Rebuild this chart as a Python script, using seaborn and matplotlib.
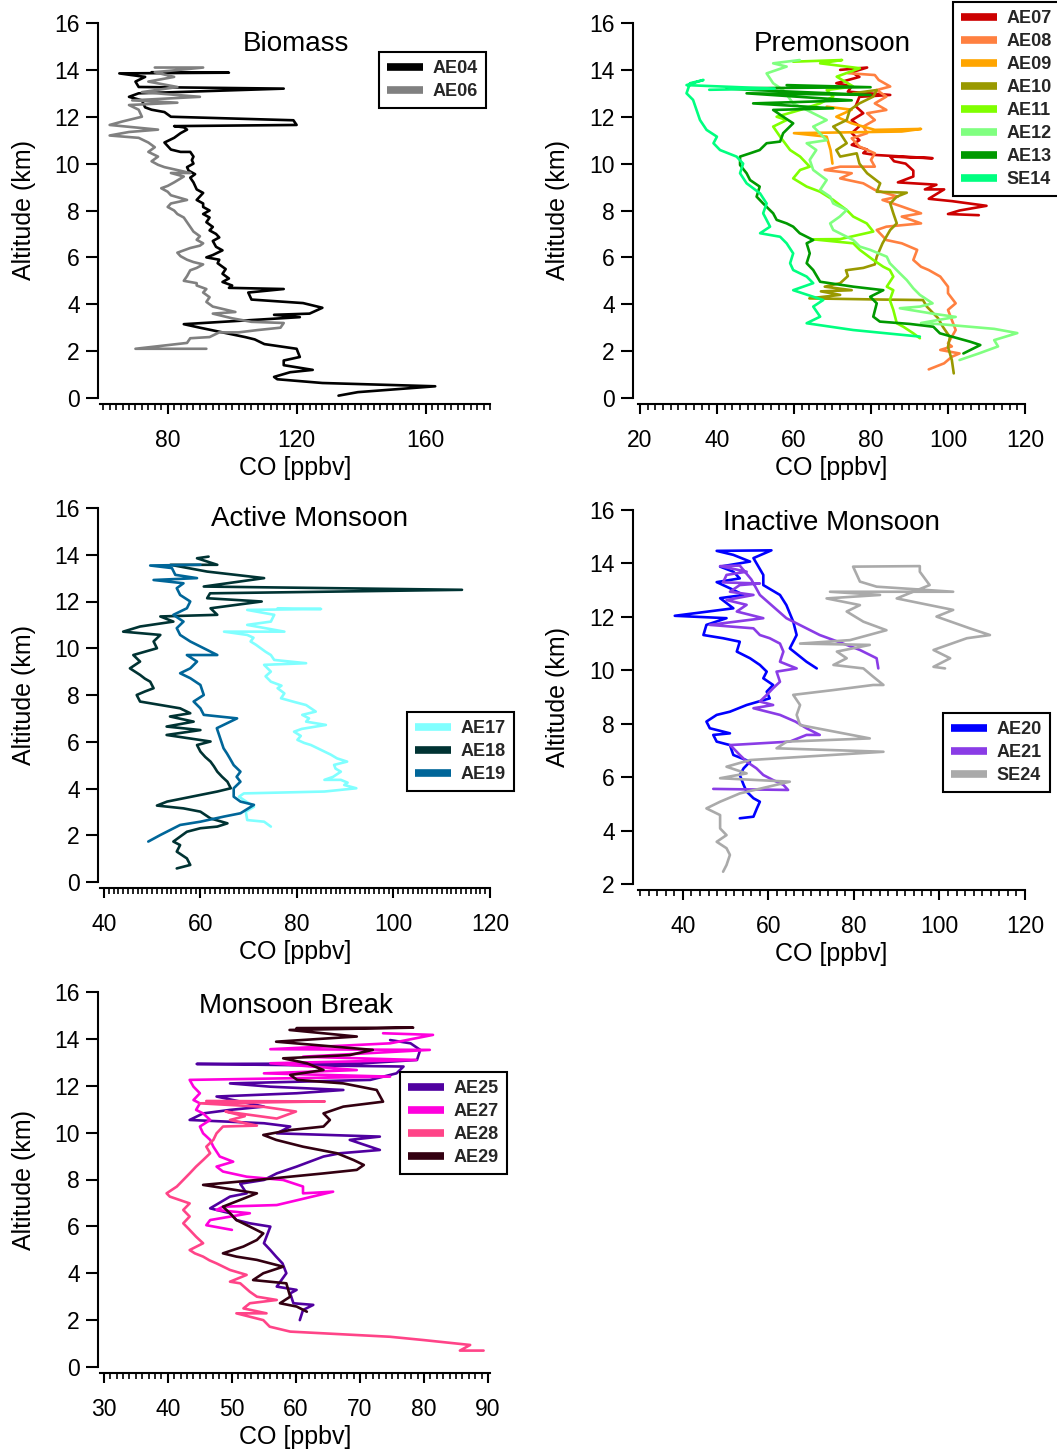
import matplotlib
matplotlib.use("Agg")
import matplotlib.pyplot as plt
import pandas as pd
import seaborn as sns
from matplotlib.lines import Line2D
from matplotlib.ticker import MultipleLocator

# ---------------------------------------------------------------
# CO vertical profiles: (CO [ppbv], altitude [km]) in flight order
# ---------------------------------------------------------------
AE04 = [(133, 0.1), (139, 0.25), (163, 0.5), (128, 0.64), (114, 0.8), (113, 0.9), (118, 1.1), (125, 1.2),
        (116, 1.4), (116, 1.6), (121, 1.75), (120, 2.1), (110, 2.3), (107, 2.5), (104, 2.6), (97, 2.8),
        (90, 3.0), (85, 3.15), (121, 3.45), (113, 3.55), (124, 3.6), (128, 3.85), (122, 4.05), (106, 4.2),
        (105, 4.5), (116, 4.65), (99, 4.7), (100, 4.8), (97, 4.95), (99, 5.1), (97, 5.3), (98, 5.5),
        (95.5, 5.75), (96, 5.9), (92, 6.0), (94, 6.1), (97, 6.3), (95, 6.45), (94, 6.7), (96, 6.85), (95, 7.0),
        (93, 7.15), (94, 7.3), (92, 7.5), (93, 7.7), (91, 7.85), (93, 8.0), (91, 8.15), (91, 8.3), (89, 8.45),
        (90, 8.6), (91, 8.75), (89, 8.9), (88.5, 9.05), (88, 9.2), (87, 9.4), (88.5, 9.55), (86.5, 9.7),
        (86, 9.85), (88, 10.0), (87.5, 10.15), (88, 10.3), (87, 10.5), (84, 10.5), (81, 10.6), (79, 10.9),
        (82, 11.1), (84, 11.3), (86, 11.45), (85, 11.55), (82, 11.6), (120, 11.65), (119, 11.85), (81, 12.0),
        (79, 12.2), (75, 12.3), (73, 12.4), (72, 12.7), (68, 12.85), (71, 13.0), (116, 13.2), (71, 13.27),
        (70, 13.5), (73, 13.7), (65, 13.85), (99, 13.88), (75, 13.9)]
AE06 = [(92, 2.1), (70, 2.1), (86, 2.35), (87, 2.55), (93, 2.6), (96, 2.8), (102, 2.8), (108, 2.9),
        (115, 3.0), (116, 3.2), (106, 3.25), (100, 3.4), (94, 3.6), (101, 3.67), (94, 3.9), (92, 4.1),
        (93, 4.3), (91, 4.5), (92, 4.65), (89, 4.8), (89, 4.9), (85, 5.0), (86, 5.2), (87, 5.45), (89, 5.55),
        (91, 5.7), (88, 5.8), (86, 5.9), (84, 6.05), (83, 6.2), (85, 6.3), (87, 6.4), (90, 6.5), (91, 6.6),
        (89, 6.75), (90, 6.9), (88, 7.1), (87, 7.3), (86, 7.5), (85, 7.7), (83, 7.85), (82, 8.0), (80, 8.15),
        (81, 8.3), (86, 8.45), (81, 8.65), (80, 8.8), (78, 8.95), (80, 9.05), (82, 9.2), (85, 9.45), (81, 9.6),
        (87, 9.6), (79, 9.85), (77, 9.95), (75, 10.1), (77, 10.3), (74, 10.5), (76, 10.7), (74, 10.9),
        (71, 11.1), (62, 11.2), (68, 11.35), (77, 11.45), (62, 11.65), (66, 11.8), (72, 12.0), (71, 12.3),
        (68, 12.5), (83, 12.6), (69, 12.7), (90, 12.85), (72, 13.05), (83, 13.27), (74, 13.5), (82, 13.7),
        (76, 13.9), (91, 14.1), (76, 14.1)]

AE07 = [(108, 7.8), (100, 7.85), (103, 8.0), (110, 8.2), (101, 8.4), (95, 8.5), (99, 8.9), (94, 8.9),
        (97, 9.1), (87, 9.2), (91, 9.45), (91, 9.7), (89, 10.0), (86, 10.1), (85, 10.3), (96, 10.23),
        (81, 10.37), (78, 10.45), (79, 10.6), (75, 10.8), (77, 11.0), (75, 11.3), (77, 11.6), (75, 11.85),
        (78, 12.15), (76, 12.45), (77, 12.85), (85, 12.93), (74, 13.07), (75, 13.3), (71, 13.43), (77, 13.7),
        (75, 13.9), (79, 14.1), (72, 14.0)]
AE08 = [(95, 1.22), (99, 1.48), (101, 1.76), (103, 1.9), (98, 2.05), (101, 2.2), (100, 2.33), (102, 2.9),
        (101, 3.33), (100, 3.76), (102, 4.04), (100, 4.47), (100, 4.75), (98, 5.18), (95, 5.46), (93, 5.6),
        (91, 5.89), (92, 6.32), (88, 6.6), (84, 6.74), (81.5, 7.17), (84, 7.31), (93, 7.45), (88, 7.74),
        (93, 7.88), (88, 8.17), (83, 8.45), (87, 8.59), (81, 8.88), (78, 9.16), (72, 9.37), (75, 9.59),
        (68, 9.73), (72, 9.87), (81, 9.87), (80, 10.16), (81, 10.44), (77, 10.73), (75, 11.08), (79, 11.3),
        (78, 11.58), (81, 11.86), (79, 12.15), (84, 12.29), (81, 12.57), (84, 12.86), (81.5, 13.14),
        (85, 13.29), (82, 13.57), (81, 13.78), (74, 13.86)]
AE09 = [(70, 10.0), (69.5, 10.58), (68.5, 11.15), (60, 11.3), (88, 11.37), (93, 11.48), (81, 11.44),
        (75, 11.72), (71, 12.0), (75, 12.3), (68.5, 12.43)]
AE10 = [(101.5, 1.05), (101, 1.62), (100, 2.18), (100.5, 2.6), (98.7, 3.03), (97.4, 3.41), (94.5, 3.9),
        (93.5, 4.18), (83, 4.2), (64, 4.25), (72, 4.4), (67, 4.55), (75, 4.6), (68, 4.75), (72, 4.9),
        (74, 5.2), (73.5, 5.45), (78, 5.55), (81, 5.7), (81.5, 6.03), (83, 6.6), (85, 7.17), (86.7, 7.45),
        (85.8, 7.88), (85, 8.3), (86.7, 8.59), (89.3, 8.76), (81.5, 8.8), (82.4, 9.16), (79, 9.59),
        (77, 10.0), (76.3, 10.44), (72, 10.3), (71, 10.58), (73.7, 10.87), (72, 11.3), (70.2, 11.58),
        (73.7, 11.86), (74.5, 12.29), (77, 12.57), (80.6, 12.86), (81.5, 13.14), (75.4, 13.0)]
AE11 = [(92.7, 2.55), (91, 2.76), (88.4, 3.04), (86.7, 3.19), (85.8, 3.76), (84.9, 4.18), (85.8, 4.6),
        (84.1, 4.75), (85.8, 5.18), (84.9, 5.46), (83.2, 5.6), (80.6, 5.89), (77.1, 6.32), (75.4, 6.6),
        (66.8, 6.74), (65, 6.77), (72, 6.78), (80.6, 7.1), (78.9, 7.45), (75.4, 7.74), (73.7, 8.02),
        (70.2, 8.45), (66.8, 8.8), (63.3, 9.02), (59.8, 9.37), (61.6, 9.73), (64.1, 9.87), (61.6, 10.3),
        (59, 10.58), (56.4, 11.15), (54.6, 11.58), (58.1, 11.86), (55.5, 12.0), (61.6, 12.29), (66.8, 12.57),
        (70.2, 12.86), (68.5, 13.14), (75.4, 13.29), (71.1, 13.71), (77.1, 14.07), (66.8, 14.28),
        (72.5, 14.42), (59.8, 14.35)]
AE12 = [(103, 1.62), (108, 1.9), (113, 2.2), (112, 2.47), (118, 2.77), (112, 2.95), (98, 3.15), (93, 3.2),
        (102, 3.46), (96, 3.6), (87.5, 3.83), (92.7, 3.9), (96, 4.04), (92.7, 4.4), (91, 4.68), (89.3, 5.03),
        (87.5, 5.32), (84.9, 5.75), (84.1, 6.03), (79.8, 6.32), (77.1, 6.46), (75.4, 6.74), (70.2, 7.17),
        (69.4, 7.45), (71.9, 7.74), (73.7, 8.02), (70.2, 8.3), (69.4, 8.59), (66.8, 8.88), (68.5, 9.3),
        (65, 9.73), (64.1, 10.16), (65.8, 10.58), (63.3, 10.87), (68.5, 11.0), (65, 11.58), (68.5, 11.86),
        (63.3, 12.29), (59.8, 12.57), (57.2, 13.14), (54.6, 13.43), (52.9, 13.85), (58.1, 14.14),
        (54.6, 14.28), (61.5, 14.42)]
AE13 = [(104, 1.9), (108.4, 2.26), (105.8, 2.4), (97.9, 2.76), (96.2, 3.04), (90.1, 3.16), (82.3, 3.26),
        (80.6, 3.47), (81.5, 4.04), (79.8, 4.32), (83.2, 4.6), (75.4, 4.75), (66.8, 4.96), (65, 5.46),
        (63.3, 5.75), (64.1, 6.17), (63.3, 6.6), (65, 6.74), (61.5, 7.03), (59.8, 7.31), (58.1, 7.45),
        (55.5, 7.6), (54.6, 7.88), (52, 8.3), (50.3, 8.59), (51.1, 9.02), (48.6, 9.3), (47.7, 9.59),
        (46, 9.94), (46, 10.3), (48.6, 10.44), (51.1, 10.58), (52.9, 10.87), (56.4, 10.94), (57.2, 11.3),
        (59.8, 11.72), (57.2, 12.0), (54.6, 12.29), (70.2, 12.36), (49.4, 12.57), (75, 12.7), (47.7, 13.0),
        (79.9, 12.93), (49.4, 13.14), (42.5, 13.21), (79.9, 13.26), (58.1, 13.35)]
SE14 = [(92.7, 2.62), (75.4, 2.9), (63.3, 3.19), (66.8, 3.47), (65, 3.9), (67.6, 4.18), (59.8, 4.6),
        (65, 4.9), (63.3, 5.18), (59.8, 5.46), (59, 5.75), (59.8, 6.17), (58.1, 6.6), (56.4, 6.88),
        (51.2, 7.03), (53.8, 7.31), (52, 7.88), (52.9, 8.3), (51.2, 8.73), (47.7, 9.16), (46, 9.59),
        (46.8, 10.0), (45.1, 10.3), (40.8, 10.58), (39.1, 10.87), (40, 11.15), (37.3, 11.44), (35.6, 11.86),
        (34.7, 12.29), (33.8, 12.72), (32.1, 13.0), (33, 13.43), (36.5, 13.57), (32.1, 13.35), (55, 13.2),
        (38, 13.15)]

AE17 = [(74.6, 2.37), (73.2, 2.58), (69.7, 2.65), (69.4, 3.01), (71.1, 3.22), (69, 3.51), (68, 3.65),
        (69, 3.79), (85.7, 3.87), (92.3, 4.01), (89.8, 4.15), (90.5, 4.25), (89.1, 4.37), (85.7, 4.37),
        (87.5, 4.5), (89.1, 4.72), (88, 4.85), (87.7, 5.01), (90.4, 5.15), (88.3, 5.29), (87, 5.45),
        (85.7, 5.58), (84.5, 5.7), (82.9, 5.86), (81.5, 5.95), (80.1, 6.08), (80.8, 6.25), (79.4, 6.43),
        (81, 6.55), (86, 6.72), (81.9, 6.86), (82.5, 7.0), (81.1, 7.15), (83.9, 7.29), (81.9, 7.57),
        (79.5, 7.7), (76.7, 7.86), (77.4, 8.07), (76, 8.29), (76.8, 8.4), (74.6, 8.57), (73.5, 8.8),
        (74.6, 9.0), (73.2, 9.29), (81.9, 9.36), (75.3, 9.5), (74.6, 9.71), (73.5, 9.85), (72.5, 10.0),
        (71.5, 10.15), (70.4, 10.29), (71, 10.45), (69.7, 10.57), (64.9, 10.71), (77.4, 10.71), (69.7, 11.0),
        (74.6, 11.14), (75.3, 11.43), (69.7, 11.64), (85, 11.68), (76, 11.71)]
AE18 = [(55.1, 0.58), (57.9, 0.73), (57.2, 1.01), (55.1, 1.3), (55.8, 1.58), (54.4, 1.73), (57.2, 2.15),
        (60, 2.3), (63.5, 2.37), (65.6, 2.51), (62.1, 2.72), (60, 3.01), (56.5, 3.15), (51, 3.27),
        (53.1, 3.44), (63.5, 3.87), (66.3, 4.01), (65.6, 4.29), (64.5, 4.5), (63.5, 4.72), (62.8, 4.95),
        (62.1, 5.15), (61, 5.35), (60, 5.58), (59.3, 5.86), (62.1, 6.01), (53, 6.29), (60, 6.5), (53, 6.65),
        (58.6, 6.86), (53.7, 7.08), (57.9, 7.22), (55.8, 7.43), (53.8, 7.5), (47.5, 7.72), (46.8, 8.0),
        (48.5, 8.15), (50.3, 8.29), (49.6, 8.57), (48.5, 8.7), (47.5, 8.86), (45.4, 9.14), (47.5, 9.43),
        (46.1, 9.71), (51, 10.0), (50.3, 10.29), (51.7, 10.57), (44, 10.71), (47.5, 10.93), (54.4, 11.14),
        (51.7, 11.36), (63.5, 11.43), (62.1, 11.71), (72.7, 12.0), (61.4, 12.14), (62, 12.35), (114.2, 12.5),
        (60.7, 12.64), (73.2, 13.0), (61.4, 13.28), (53.8, 13.57), (63.5, 13.57), (59.3, 13.85), (61.7, 13.92)]
AE19 = [(49.2, 1.73), (51.7, 2.01), (55.8, 2.44), (60, 2.58), (64.9, 2.8), (68.3, 2.94), (71.1, 3.3),
        (68.3, 3.44), (66.9, 3.65), (66.9, 4.01), (68.3, 4.29), (67.5, 4.5), (68.3, 4.72), (66.9, 5.0),
        (66.1, 5.29), (65.5, 5.5), (64.8, 5.72), (64.1, 6.15), (63.4, 6.58), (67.6, 7.0), (60.7, 7.15),
        (60, 7.43), (58.6, 7.72), (60.7, 8.0), (60, 8.43), (57.9, 8.72), (55.8, 8.93), (57.9, 9.14),
        (59.3, 9.43), (57.2, 9.71), (63.5, 9.71), (57.9, 10.29), (55.8, 10.57), (55.1, 10.86), (56.5, 11.14),
        (54.4, 11.43), (57.2, 11.71), (57.9, 12.0), (55.8, 12.28), (55.1, 12.57), (56.5, 12.78), (50.3, 12.92),
        (59.3, 13.0), (54.8, 13.14), (54.1, 13.43), (49.6, 13.54), (60, 13.57)]

AE20 = [(53.3, 4.46), (56.5, 4.52), (57.3, 4.83), (58, 5.08), (56.5, 5.21), (54.9, 5.46), (54.2, 5.71),
        (53.3, 6.08), (54.2, 6.33), (55.7, 6.58), (51.8, 6.83), (51, 7.2), (47.9, 7.33), (47.1, 7.58),
        (51, 7.64), (46.3, 7.83), (45.5, 8.08), (47.9, 8.33), (51, 8.45), (54.9, 8.7), (60.3, 8.95),
        (59.6, 9.2), (61.1, 9.45), (58.8, 9.7), (59.6, 9.95), (58, 10.2), (55.7, 10.45), (52.6, 10.7),
        (53.3, 11.07), (49.4, 11.2), (44.8, 11.32), (45.5, 11.7), (50.2, 11.95), (38.1, 12.04), (51.8, 12.32),
        (48.7, 12.7), (54.2, 12.82), (51, 13.07), (47.9, 13.3), (53.3, 13.44), (51.8, 13.69), (48.7, 13.88),
        (55.7, 14.07), (51.8, 14.32), (47.9, 14.47), (60.7, 14.49), (56.5, 14.2), (58.8, 13.57),
        (58.8, 13.19), (62.7, 12.82), (64.2, 12.44), (65.8, 11.82), (66.6, 11.32), (65, 10.82), (68.9, 10.32),
        (71.3, 10.07)]
AE21 = [(47.1, 5.56), (64.6, 5.52), (63.5, 5.71), (61.1, 5.89), (58.8, 6.08), (57.2, 6.33), (54.9, 6.58),
        (53.3, 6.83), (51.8, 7.08), (51, 7.2), (65, 7.33), (68.9, 7.58), (72, 7.58), (68.9, 7.83),
        (66.3, 8.08), (62.7, 8.33), (56.5, 8.58), (61.1, 8.7), (58, 8.83), (59.6, 9.08), (61.1, 9.33),
        (62.7, 9.57), (61.9, 9.95), (66.6, 10.07), (62.7, 10.32), (63.5, 10.7), (62.7, 11.0), (60.3, 11.2),
        (58, 11.32), (56.5, 11.57), (46.3, 11.7), (58.8, 11.95), (52.6, 12.2), (54.9, 12.45), (50.2, 12.63),
        (56.5, 12.82), (51, 12.94), (53.3, 13.19), (58, 13.25), (49.4, 13.29), (50.2, 13.57), (54.9, 13.69),
        (48.7, 13.9), (53.3, 13.92), (56, 13.4), (58, 12.82), (64.2, 11.95), (72, 11.32), (78.3, 10.95),
        (81.4, 10.76), (85.3, 10.45), (85.7, 10.07)]
SE24 = [(49.4, 2.46), (50.2, 2.71), (51, 3.09), (50.2, 3.34), (47.9, 3.58), (50.2, 3.83), (48.7, 4.08),
        (48.7, 4.58), (45.5, 4.83), (48.7, 5.08), (53.3, 5.39), (65, 5.83), (48.7, 5.96), (54.9, 6.14),
        (50.2, 6.39), (55.7, 6.64), (86.9, 6.95), (61.9, 7.08), (64.3, 7.33), (83.7, 7.45), (67.4, 7.95),
        (66.6, 8.33), (67.4, 8.7), (65.8, 9.08), (75.2, 9.26), (84.5, 9.45), (86.9, 9.45), (84.5, 9.76),
        (82.2, 10.07), (75.2, 10.2), (78.3, 10.45), (76, 10.7), (83.7, 10.95), (67.4, 11.0), (79.1, 11.13),
        (87.6, 11.5), (82.2, 11.82), (78.3, 12.2), (81.4, 12.44), (73.6, 12.69), (86.1, 12.82), (74.4, 12.94),
        (103.2, 12.94), (85.3, 13.13), (81.4, 13.32), (79.8, 13.88), (95.4, 13.9), (95.4, 13.69),
        (97.7, 13.19), (90, 12.69), (103.2, 12.26), (99.3, 12.01), (107.1, 11.57), (111.8, 11.32),
        (106.4, 11.2), (98.6, 10.76), (102.5, 10.45), (98.6, 10.13), (101.3, 10.07)]

AE25 = [(60.6, 2.0), (61.1, 2.43), (62.7, 2.65), (59.6, 2.72), (59.1, 3.14), (60.1, 3.29), (57, 3.43),
        (58.5, 4.0), (57.9, 4.42), (56.9, 4.71), (56, 4.99), (55, 5.28), (56, 5.99), (52.8, 6.13),
        (50.7, 6.27), (49.7, 6.56), (46.6, 6.77), (49.7, 7.27), (52.3, 7.41), (51.3, 7.82), (55, 7.98),
        (57, 8.26), (60.1, 8.55), (64.3, 8.98), (66.9, 9.12), (73.1, 9.26), (68.4, 9.69), (73.1, 9.83),
        (57, 9.97), (59.1, 10.26), (55, 10.4), (43.4, 10.54), (45.5, 10.82), (49.7, 10.97), (55, 11.11),
        (47.6, 11.54), (60.1, 11.68), (67.4, 11.82), (56, 11.96), (49.7, 12.1), (71.6, 12.25), (75.7, 12.53),
        (76.8, 12.82), (44.5, 12.93), (70, 12.95), (78.9, 13.1), (79.4, 13.53), (77.9, 13.81), (74.7, 13.95)]
AE27 = [(50, 5.85), (46, 6.05), (46.6, 6.27), (52.8, 6.56), (47.6, 6.7), (48.6, 6.84), (57, 6.91),
        (65.8, 7.48), (61.1, 7.41), (61.1, 7.7), (58, 7.98), (52.3, 8.12), (48.6, 8.34), (47.6, 8.55),
        (50.2, 8.76), (48.1, 8.98), (47.1, 9.4), (46.6, 9.69), (45.5, 9.97), (45, 10.26), (46.6, 10.54),
        (45.5, 10.82), (44.4, 10.97), (45, 11.25), (44, 11.39), (45, 11.68), (44, 11.96), (43.4, 12.25),
        (74.7, 12.39), (55, 12.53), (69.5, 12.67), (56, 12.96), (78.8, 13.1), (61.1, 13.24), (80.9, 13.53),
        (56, 13.56), (74.7, 13.81), (81.4, 14.17), (73.6, 14.24)]
AE28 = [(89.3, 0.7), (85.6, 0.7), (87.2, 0.94), (79.9, 1.15), (74.7, 1.29), (59.1, 1.51), (55.9, 1.72),
        (54.9, 2.0), (50.7, 2.29), (55.4, 2.29), (51.8, 2.5), (52.8, 2.72), (57, 2.86), (53.9, 3.0),
        (52.8, 3.21), (51.3, 3.57), (49.7, 3.64), (52.3, 3.93), (49.7, 4.14), (48.5, 4.3), (47.6, 4.42),
        (46.5, 4.55), (45.5, 4.71), (44.2, 4.85), (43.4, 4.99), (45.5, 5.28), (44.4, 5.56), (43.4, 5.85),
        (42.4, 6.13), (43.4, 6.42), (42.4, 6.7), (43.4, 6.98), (40.3, 7.27), (39.8, 7.41), (41.4, 7.7),
        (42.4, 7.98), (43.4, 8.26), (44.4, 8.55), (45.5, 8.83), (46.6, 9.12), (46, 9.4), (47.1, 9.69),
        (47.6, 9.97), (48.6, 10.26), (53.9, 10.3), (49.7, 10.54), (52, 10.7), (49, 10.9), (57, 10.6),
        (60, 10.9), (55, 11.1), (45, 11.25), (64.5, 11.33), (46, 11.35)]
AE29 = [(61.7, 2.36), (60.1, 2.58), (57.5, 2.72), (59.1, 3.0), (58.5, 3.57), (53.3, 3.71), (54.9, 4.0),
        (58, 4.28), (53.9, 4.57), (50.7, 4.71), (48.6, 4.85), (51.8, 5.14), (53.9, 5.42), (54.9, 5.7),
        (52.8, 5.99), (50.7, 6.27), (49.7, 6.56), (48.6, 6.84), (51.3, 7.13), (53.9, 7.41), (45.5, 7.77),
        (53.9, 7.98), (59.1, 8.12), (64.3, 8.26), (69.5, 8.41), (70.6, 8.62), (69, 8.83), (66.4, 9.12),
        (61.1, 9.4), (56.9, 9.69), (54.9, 9.9), (59.1, 10.11), (64.3, 10.26), (65.3, 10.54), (64.3, 10.82),
        (67.4, 11.11), (73.6, 11.32), (72.6, 11.82), (67.4, 12.1), (60.2, 12.25), (59.1, 12.46), (64.3, 12.67),
        (61.7, 12.96), (58, 13.17), (68.4, 13.31), (72, 13.53), (56.9, 13.88), (69.5, 14.1), (59, 14.38),
        (78.3, 14.48), (60.1, 14.46)]

PROFILES = {
    "AE04": AE04, "AE06": AE06,
    "AE07": AE07, "AE08": AE08, "AE09": AE09, "AE10": AE10,
    "AE11": AE11, "AE12": AE12, "AE13": AE13, "SE14": SE14,
    "AE17": AE17, "AE18": AE18, "AE19": AE19,
    "AE20": AE20, "AE21": AE21, "SE24": SE24,
    "AE25": AE25, "AE27": AE27, "AE28": AE28, "AE29": AE29,
}

COLORS = {
    "AE04": "#000000", "AE06": "#808080",
    "AE07": "#CC0000", "AE08": "#FF8040", "AE09": "#FFA500", "AE10": "#999900",
    "AE11": "#80FF00", "AE12": "#80FF80", "AE13": "#009900", "SE14": "#00FF80",
    "AE17": "#80FFFF", "AE18": "#003333", "AE19": "#006699",
    "AE20": "#0000FF", "AE21": "#8A3CE6", "SE24": "#AAAAAA",
    "AE25": "#5000A0", "AE27": "#FF00DD", "AE28": "#FF4488", "AE29": "#330011",
}

# title, flights, axes box in px (left, right, top, bottom), xlim, ylim,
# major/minor x step, title position (axes frac), legend top-left (px), ylabel x (axes frac)
PANELS = [
    ("Biomass", ["AE04", "AE06"], (100, 490, 23, 398), (59, 180), (0, 16), 40, 2,
     (0.503, 0.945), (379, 52), -0.165),
    ("Premonsoon", ["AE07", "AE08", "AE09", "AE10", "AE11", "AE12", "AE13", "SE14"],
     (638, 1025, 23, 398), (19.5, 120), (0, 16), 20, 2, (0.501, 0.945), (953, 2), -0.175),
    ("Active Monsoon", ["AE17", "AE18", "AE19"], (100, 490, 508, 882), (39.2, 120), (0, 16), 20, 1,
     (0.538, 0.97), (407, 712), -0.165),
    ("Inactive Monsoon", ["AE20", "AE21", "SE24"], (638, 1025, 510, 884), (29.5, 120), (2, 16), 20, 2,
     (0.501, 0.965), (943, 713), -0.175),
    ("Monsoon Break", ["AE25", "AE27", "AE28", "AE29"], (100, 490, 992, 1367), (29.4, 90.3), (0, 16), 10, 1,
     (0.503, 0.962), (400, 1072), -0.165),
]

sns.set_theme(style="ticks")
plt.rcParams["font.family"] = ["Liberation Sans", "DejaVu Sans"]
plt.rcParams["axes.linewidth"] = 1.5

W, H = 1057, 1454
fig = plt.figure(figsize=(W / 100, H / 100), dpi=100)

for (title, flights, box, xlim, ylim, xmaj, xmin, tpos, legpos, ylx) in PANELS:
    left, right, top, bottom = box
    ax = fig.add_axes([left / W, 1 - bottom / H, (right - left) / W, (bottom - top) / H])

    rows = [(f, co, z) for f in flights for (co, z) in PROFILES[f]]
    df = pd.DataFrame(rows, columns=["flight", "CO", "alt"])
    sns.lineplot(data=df, x="CO", y="alt", hue="flight", hue_order=flights,
                 palette={f: COLORS[f] for f in flights}, sort=False, estimator=None,
                 lw=1.9, legend=False, ax=ax)

    ax.set_xlim(*xlim)
    ax.set_ylim(*ylim)
    ax.xaxis.set_major_locator(MultipleLocator(xmaj))
    ax.xaxis.set_minor_locator(MultipleLocator(xmin))
    ax.yaxis.set_major_locator(MultipleLocator(2))

    for s in ("top", "right"):
        ax.spines[s].set_visible(False)
    ax.spines["bottom"].set_position(("outward", 4.5))
    ax.spines["left"].set_position(("outward", 1.5 if left < 300 else 3.6))
    for s in ("bottom", "left"):
        ax.spines[s].set_linewidth(1.5)
        ax.spines[s].set_color("black")

    ax.tick_params(axis="y", which="major", direction="out", length=9, width=1.5,
                   labelsize=16.5, pad=4, colors="black")
    ax.tick_params(axis="x", which="major", direction="out", length=7, width=1.5,
                   labelsize=16.5, pad=11, colors="black")
    ax.tick_params(axis="x", which="minor", direction="out", length=4.5, width=1.2, colors="black")

    ax.set_xlabel("CO [ppbv]", fontsize=18, color="black")
    ax.set_ylabel("Altitude (km)", fontsize=18, color="black")
    ax.xaxis.set_label_coords(0.5, -0.155)
    ax.yaxis.set_label_coords(ylx, 0.5)

    ax.text(tpos[0], tpos[1], title, transform=ax.transAxes, ha="center", va="center",
            fontsize=20, color="black")

    handles = [Line2D([0], [0], color=COLORS[f], lw=5.5, solid_capstyle="butt") for f in flights]
    leg = ax.legend(handles, flights, loc="upper left",
                    bbox_to_anchor=(legpos[0] / W, 1 - legpos[1] / H),
                    bbox_transform=fig.transFigure, borderaxespad=0,
                    prop={"weight": "bold", "size": 13}, frameon=True, fancybox=False,
                    handlelength=2.0, handletextpad=0.5, labelspacing=0.33, borderpad=0.45)
    leg.get_frame().set_edgecolor("black")
    leg.get_frame().set_linewidth(1.5)
    leg.get_frame().set_facecolor("white")
    leg.get_frame().set_alpha(1)

fig.savefig("out.png", dpi=100)
